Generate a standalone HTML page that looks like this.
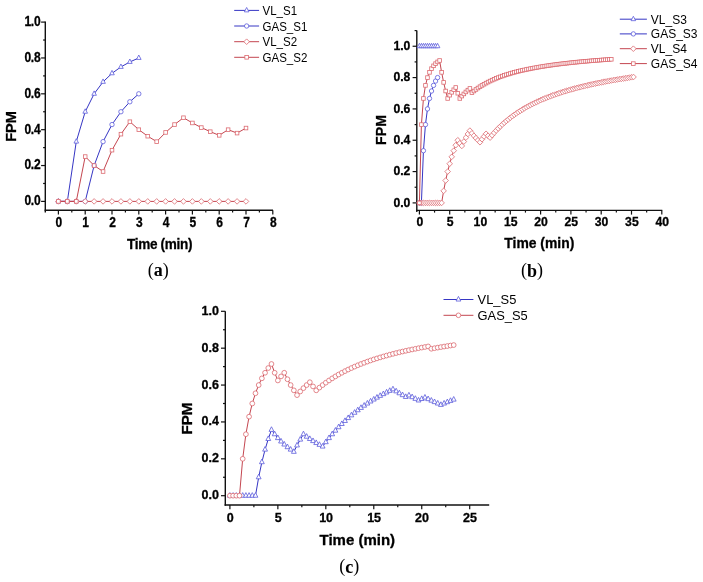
<!DOCTYPE html>
<html><head><meta charset="utf-8"><title>FPM figure</title>
<style>
html,body{margin:0;padding:0;background:#fff;}
body{width:703px;height:582px;overflow:hidden;font-family:"Liberation Sans", sans-serif;}
svg{display:block;will-change:transform;}
</style></head>
<body>
<svg width="703" height="582" viewBox="0 0 703 582">
<rect width="703" height="582" fill="#fff"/>
<line x1="45.3" y1="21.6" x2="45.3" y2="212.6" stroke="#111" stroke-width="1.4"/>
<line x1="44.6" y1="210.2" x2="273" y2="210.2" stroke="#111" stroke-width="1.4"/>
<line x1="41.1" y1="201.4" x2="45.3" y2="201.4" stroke="#111" stroke-width="1.2"/>
<line x1="41.1" y1="165.54" x2="45.3" y2="165.54" stroke="#111" stroke-width="1.2"/>
<line x1="41.1" y1="129.68" x2="45.3" y2="129.68" stroke="#111" stroke-width="1.2"/>
<line x1="41.1" y1="93.82" x2="45.3" y2="93.82" stroke="#111" stroke-width="1.2"/>
<line x1="41.1" y1="57.96" x2="45.3" y2="57.96" stroke="#111" stroke-width="1.2"/>
<line x1="41.1" y1="22.1" x2="45.3" y2="22.1" stroke="#111" stroke-width="1.2"/>
<line x1="43.1" y1="183.47" x2="45.3" y2="183.47" stroke="#111" stroke-width="1.2"/>
<line x1="43.1" y1="147.61" x2="45.3" y2="147.61" stroke="#111" stroke-width="1.2"/>
<line x1="43.1" y1="111.75" x2="45.3" y2="111.75" stroke="#111" stroke-width="1.2"/>
<line x1="43.1" y1="75.89" x2="45.3" y2="75.89" stroke="#111" stroke-width="1.2"/>
<line x1="43.1" y1="40.03" x2="45.3" y2="40.03" stroke="#111" stroke-width="1.2"/>
<line x1="58.4" y1="210.2" x2="58.4" y2="214.4" stroke="#111" stroke-width="1.2"/>
<line x1="85.2" y1="210.2" x2="85.2" y2="214.4" stroke="#111" stroke-width="1.2"/>
<line x1="112" y1="210.2" x2="112" y2="214.4" stroke="#111" stroke-width="1.2"/>
<line x1="138.8" y1="210.2" x2="138.8" y2="214.4" stroke="#111" stroke-width="1.2"/>
<line x1="165.6" y1="210.2" x2="165.6" y2="214.4" stroke="#111" stroke-width="1.2"/>
<line x1="192.4" y1="210.2" x2="192.4" y2="214.4" stroke="#111" stroke-width="1.2"/>
<line x1="219.2" y1="210.2" x2="219.2" y2="214.4" stroke="#111" stroke-width="1.2"/>
<line x1="246" y1="210.2" x2="246" y2="214.4" stroke="#111" stroke-width="1.2"/>
<line x1="272.8" y1="210.2" x2="272.8" y2="214.4" stroke="#111" stroke-width="1.2"/>
<line x1="71.8" y1="210.2" x2="71.8" y2="212.4" stroke="#111" stroke-width="1.2"/>
<line x1="98.6" y1="210.2" x2="98.6" y2="212.4" stroke="#111" stroke-width="1.2"/>
<line x1="125.4" y1="210.2" x2="125.4" y2="212.4" stroke="#111" stroke-width="1.2"/>
<line x1="152.2" y1="210.2" x2="152.2" y2="212.4" stroke="#111" stroke-width="1.2"/>
<line x1="179" y1="210.2" x2="179" y2="212.4" stroke="#111" stroke-width="1.2"/>
<line x1="205.8" y1="210.2" x2="205.8" y2="212.4" stroke="#111" stroke-width="1.2"/>
<line x1="232.6" y1="210.2" x2="232.6" y2="212.4" stroke="#111" stroke-width="1.2"/>
<line x1="259.4" y1="210.2" x2="259.4" y2="212.4" stroke="#111" stroke-width="1.2"/>
<text transform="translate(40.3 205.3) scale(0.87 1)" x="0" y="0" font-family='"Liberation Sans", sans-serif' font-size="13.8" font-weight="bold" text-anchor="end" letter-spacing="-0.3" stroke="#000" stroke-width="0.3" >0.0</text>
<text transform="translate(40.3 169.44) scale(0.87 1)" x="0" y="0" font-family='"Liberation Sans", sans-serif' font-size="13.8" font-weight="bold" text-anchor="end" letter-spacing="-0.3" stroke="#000" stroke-width="0.3" >0.2</text>
<text transform="translate(40.3 133.58) scale(0.87 1)" x="0" y="0" font-family='"Liberation Sans", sans-serif' font-size="13.8" font-weight="bold" text-anchor="end" letter-spacing="-0.3" stroke="#000" stroke-width="0.3" >0.4</text>
<text transform="translate(40.3 97.72) scale(0.87 1)" x="0" y="0" font-family='"Liberation Sans", sans-serif' font-size="13.8" font-weight="bold" text-anchor="end" letter-spacing="-0.3" stroke="#000" stroke-width="0.3" >0.6</text>
<text transform="translate(40.3 61.86) scale(0.87 1)" x="0" y="0" font-family='"Liberation Sans", sans-serif' font-size="13.8" font-weight="bold" text-anchor="end" letter-spacing="-0.3" stroke="#000" stroke-width="0.3" >0.8</text>
<text transform="translate(40.3 26) scale(0.87 1)" x="0" y="0" font-family='"Liberation Sans", sans-serif' font-size="13.8" font-weight="bold" text-anchor="end" letter-spacing="-0.3" stroke="#000" stroke-width="0.3" >1.0</text>
<text transform="translate(58.9 226.6) scale(0.87 1)" x="0" y="0" font-family='"Liberation Sans", sans-serif' font-size="13.8" font-weight="bold" text-anchor="middle" stroke="#000" stroke-width="0.3" >0</text>
<text transform="translate(85.7 226.6) scale(0.87 1)" x="0" y="0" font-family='"Liberation Sans", sans-serif' font-size="13.8" font-weight="bold" text-anchor="middle" stroke="#000" stroke-width="0.3" >1</text>
<text transform="translate(112.5 226.6) scale(0.87 1)" x="0" y="0" font-family='"Liberation Sans", sans-serif' font-size="13.8" font-weight="bold" text-anchor="middle" stroke="#000" stroke-width="0.3" >2</text>
<text transform="translate(139.3 226.6) scale(0.87 1)" x="0" y="0" font-family='"Liberation Sans", sans-serif' font-size="13.8" font-weight="bold" text-anchor="middle" stroke="#000" stroke-width="0.3" >3</text>
<text transform="translate(166.1 226.6) scale(0.87 1)" x="0" y="0" font-family='"Liberation Sans", sans-serif' font-size="13.8" font-weight="bold" text-anchor="middle" stroke="#000" stroke-width="0.3" >4</text>
<text transform="translate(192.9 226.6) scale(0.87 1)" x="0" y="0" font-family='"Liberation Sans", sans-serif' font-size="13.8" font-weight="bold" text-anchor="middle" stroke="#000" stroke-width="0.3" >5</text>
<text transform="translate(219.7 226.6) scale(0.87 1)" x="0" y="0" font-family='"Liberation Sans", sans-serif' font-size="13.8" font-weight="bold" text-anchor="middle" stroke="#000" stroke-width="0.3" >6</text>
<text transform="translate(246.5 226.6) scale(0.87 1)" x="0" y="0" font-family='"Liberation Sans", sans-serif' font-size="13.8" font-weight="bold" text-anchor="middle" stroke="#000" stroke-width="0.3" >7</text>
<text transform="translate(273.3 226.6) scale(0.87 1)" x="0" y="0" font-family='"Liberation Sans", sans-serif' font-size="13.8" font-weight="bold" text-anchor="middle" stroke="#000" stroke-width="0.3" >8</text>
<polyline fill="none" stroke="#3636c4" stroke-width="1.0" points="58.4,201.4 67.33,201.4 76.27,141.63 85.2,111.75 94.13,93.82 103.07,81.87 112,73.33 120.93,66.92 129.87,61.94 138.8,57.96"/>
<polygon points="58.4,198.47 56.1,202.87 60.7,202.87" fill="#fff" stroke="#5c5cdc" stroke-width="0.8"/>
<polygon points="67.33,198.47 65.03,202.87 69.63,202.87" fill="#fff" stroke="#5c5cdc" stroke-width="0.8"/>
<polygon points="76.27,138.7 73.97,143.1 78.57,143.1" fill="#fff" stroke="#5c5cdc" stroke-width="0.8"/>
<polygon points="85.2,108.82 82.9,113.22 87.5,113.22" fill="#fff" stroke="#5c5cdc" stroke-width="0.8"/>
<polygon points="94.13,90.89 91.83,95.29 96.43,95.29" fill="#fff" stroke="#5c5cdc" stroke-width="0.8"/>
<polygon points="103.07,78.93 100.77,83.33 105.37,83.33" fill="#fff" stroke="#5c5cdc" stroke-width="0.8"/>
<polygon points="112,70.39 109.7,74.79 114.3,74.79" fill="#fff" stroke="#5c5cdc" stroke-width="0.8"/>
<polygon points="120.93,63.99 118.63,68.39 123.23,68.39" fill="#fff" stroke="#5c5cdc" stroke-width="0.8"/>
<polygon points="129.87,59.01 127.57,63.41 132.17,63.41" fill="#fff" stroke="#5c5cdc" stroke-width="0.8"/>
<polygon points="138.8,55.03 136.5,59.43 141.1,59.43" fill="#fff" stroke="#5c5cdc" stroke-width="0.8"/>
<polyline fill="none" stroke="#3636c4" stroke-width="1.0" points="58.4,201.4 67.33,201.4 76.27,201.4 85.2,201.4 94.13,165.54 103.07,141.63 112,124.56 120.93,111.75 129.87,101.79 138.8,93.82"/>
<circle cx="58.4" cy="201.4" r="2.2" fill="#fff" stroke="#5c5cdc" stroke-width="0.8"/>
<circle cx="67.33" cy="201.4" r="2.2" fill="#fff" stroke="#5c5cdc" stroke-width="0.8"/>
<circle cx="76.27" cy="201.4" r="2.2" fill="#fff" stroke="#5c5cdc" stroke-width="0.8"/>
<circle cx="85.2" cy="201.4" r="2.2" fill="#fff" stroke="#5c5cdc" stroke-width="0.8"/>
<circle cx="94.13" cy="165.54" r="2.2" fill="#fff" stroke="#5c5cdc" stroke-width="0.8"/>
<circle cx="103.07" cy="141.63" r="2.2" fill="#fff" stroke="#5c5cdc" stroke-width="0.8"/>
<circle cx="112" cy="124.56" r="2.2" fill="#fff" stroke="#5c5cdc" stroke-width="0.8"/>
<circle cx="120.93" cy="111.75" r="2.2" fill="#fff" stroke="#5c5cdc" stroke-width="0.8"/>
<circle cx="129.87" cy="101.79" r="2.2" fill="#fff" stroke="#5c5cdc" stroke-width="0.8"/>
<circle cx="138.8" cy="93.82" r="2.2" fill="#fff" stroke="#5c5cdc" stroke-width="0.8"/>
<polyline fill="none" stroke="#c44650" stroke-width="1.0" points="58.4,201.4 67.33,201.4 76.27,201.4 85.2,201.4 94.13,201.4 103.07,201.4 112,201.4 120.93,201.4 129.87,201.4 138.8,201.4 147.73,201.4 156.67,201.4 165.6,201.4 174.53,201.4 183.47,201.4 192.4,201.4 201.33,201.4 210.27,201.4 219.2,201.4 228.13,201.4 237.07,201.4 246,201.4"/>
<polygon points="58.4,198.6 61.2,201.4 58.4,204.2 55.6,201.4" fill="#fff" stroke="#dc6a70" stroke-width="0.8"/>
<polygon points="67.33,198.6 70.13,201.4 67.33,204.2 64.53,201.4" fill="#fff" stroke="#dc6a70" stroke-width="0.8"/>
<polygon points="76.27,198.6 79.07,201.4 76.27,204.2 73.47,201.4" fill="#fff" stroke="#dc6a70" stroke-width="0.8"/>
<polygon points="85.2,198.6 88,201.4 85.2,204.2 82.4,201.4" fill="#fff" stroke="#dc6a70" stroke-width="0.8"/>
<polygon points="94.13,198.6 96.93,201.4 94.13,204.2 91.33,201.4" fill="#fff" stroke="#dc6a70" stroke-width="0.8"/>
<polygon points="103.07,198.6 105.87,201.4 103.07,204.2 100.27,201.4" fill="#fff" stroke="#dc6a70" stroke-width="0.8"/>
<polygon points="112,198.6 114.8,201.4 112,204.2 109.2,201.4" fill="#fff" stroke="#dc6a70" stroke-width="0.8"/>
<polygon points="120.93,198.6 123.73,201.4 120.93,204.2 118.13,201.4" fill="#fff" stroke="#dc6a70" stroke-width="0.8"/>
<polygon points="129.87,198.6 132.67,201.4 129.87,204.2 127.07,201.4" fill="#fff" stroke="#dc6a70" stroke-width="0.8"/>
<polygon points="138.8,198.6 141.6,201.4 138.8,204.2 136,201.4" fill="#fff" stroke="#dc6a70" stroke-width="0.8"/>
<polygon points="147.73,198.6 150.53,201.4 147.73,204.2 144.93,201.4" fill="#fff" stroke="#dc6a70" stroke-width="0.8"/>
<polygon points="156.67,198.6 159.47,201.4 156.67,204.2 153.87,201.4" fill="#fff" stroke="#dc6a70" stroke-width="0.8"/>
<polygon points="165.6,198.6 168.4,201.4 165.6,204.2 162.8,201.4" fill="#fff" stroke="#dc6a70" stroke-width="0.8"/>
<polygon points="174.53,198.6 177.33,201.4 174.53,204.2 171.73,201.4" fill="#fff" stroke="#dc6a70" stroke-width="0.8"/>
<polygon points="183.47,198.6 186.27,201.4 183.47,204.2 180.67,201.4" fill="#fff" stroke="#dc6a70" stroke-width="0.8"/>
<polygon points="192.4,198.6 195.2,201.4 192.4,204.2 189.6,201.4" fill="#fff" stroke="#dc6a70" stroke-width="0.8"/>
<polygon points="201.33,198.6 204.13,201.4 201.33,204.2 198.53,201.4" fill="#fff" stroke="#dc6a70" stroke-width="0.8"/>
<polygon points="210.27,198.6 213.07,201.4 210.27,204.2 207.47,201.4" fill="#fff" stroke="#dc6a70" stroke-width="0.8"/>
<polygon points="219.2,198.6 222,201.4 219.2,204.2 216.4,201.4" fill="#fff" stroke="#dc6a70" stroke-width="0.8"/>
<polygon points="228.13,198.6 230.93,201.4 228.13,204.2 225.33,201.4" fill="#fff" stroke="#dc6a70" stroke-width="0.8"/>
<polygon points="237.07,198.6 239.87,201.4 237.07,204.2 234.27,201.4" fill="#fff" stroke="#dc6a70" stroke-width="0.8"/>
<polygon points="246,198.6 248.8,201.4 246,204.2 243.2,201.4" fill="#fff" stroke="#dc6a70" stroke-width="0.8"/>
<polyline fill="none" stroke="#c44650" stroke-width="1.0" points="58.4,201.4 67.33,201.4 76.27,201.4 85.2,156.57 94.13,165.54 103.07,171.52 112,150.17 120.93,134.16 129.87,121.71 138.8,129.68 147.73,136.2 156.67,141.63 165.6,132.44 174.53,124.56 183.47,117.73 192.4,122.96 201.33,127.57 210.27,131.67 219.2,135.34 228.13,129.68 237.07,133.1 246,128.05"/>
<rect x="56.6" y="199.6" width="3.6" height="3.6" fill="#fff" stroke="#dc6a70" stroke-width="0.8"/>
<rect x="65.53" y="199.6" width="3.6" height="3.6" fill="#fff" stroke="#dc6a70" stroke-width="0.8"/>
<rect x="74.47" y="199.6" width="3.6" height="3.6" fill="#fff" stroke="#dc6a70" stroke-width="0.8"/>
<rect x="83.4" y="154.77" width="3.6" height="3.6" fill="#fff" stroke="#dc6a70" stroke-width="0.8"/>
<rect x="92.33" y="163.74" width="3.6" height="3.6" fill="#fff" stroke="#dc6a70" stroke-width="0.8"/>
<rect x="101.27" y="169.72" width="3.6" height="3.6" fill="#fff" stroke="#dc6a70" stroke-width="0.8"/>
<rect x="110.2" y="148.37" width="3.6" height="3.6" fill="#fff" stroke="#dc6a70" stroke-width="0.8"/>
<rect x="119.13" y="132.36" width="3.6" height="3.6" fill="#fff" stroke="#dc6a70" stroke-width="0.8"/>
<rect x="128.07" y="119.91" width="3.6" height="3.6" fill="#fff" stroke="#dc6a70" stroke-width="0.8"/>
<rect x="137" y="127.88" width="3.6" height="3.6" fill="#fff" stroke="#dc6a70" stroke-width="0.8"/>
<rect x="145.93" y="134.4" width="3.6" height="3.6" fill="#fff" stroke="#dc6a70" stroke-width="0.8"/>
<rect x="154.87" y="139.83" width="3.6" height="3.6" fill="#fff" stroke="#dc6a70" stroke-width="0.8"/>
<rect x="163.8" y="130.64" width="3.6" height="3.6" fill="#fff" stroke="#dc6a70" stroke-width="0.8"/>
<rect x="172.73" y="122.76" width="3.6" height="3.6" fill="#fff" stroke="#dc6a70" stroke-width="0.8"/>
<rect x="181.67" y="115.93" width="3.6" height="3.6" fill="#fff" stroke="#dc6a70" stroke-width="0.8"/>
<rect x="190.6" y="121.16" width="3.6" height="3.6" fill="#fff" stroke="#dc6a70" stroke-width="0.8"/>
<rect x="199.53" y="125.77" width="3.6" height="3.6" fill="#fff" stroke="#dc6a70" stroke-width="0.8"/>
<rect x="208.47" y="129.87" width="3.6" height="3.6" fill="#fff" stroke="#dc6a70" stroke-width="0.8"/>
<rect x="217.4" y="133.54" width="3.6" height="3.6" fill="#fff" stroke="#dc6a70" stroke-width="0.8"/>
<rect x="226.33" y="127.88" width="3.6" height="3.6" fill="#fff" stroke="#dc6a70" stroke-width="0.8"/>
<rect x="235.27" y="131.3" width="3.6" height="3.6" fill="#fff" stroke="#dc6a70" stroke-width="0.8"/>
<rect x="244.2" y="126.25" width="3.6" height="3.6" fill="#fff" stroke="#dc6a70" stroke-width="0.8"/>
<line x1="234.2" y1="10.4" x2="259.1" y2="10.4" stroke="#3636c4" stroke-width="1"/>
<polygon points="246.65,7.47 244.35,11.87 248.95,11.87" fill="#fff" stroke="#5c5cdc" stroke-width="0.8"/>
<text transform="translate(262.5 14.99) scale(0.93 1)" x="0" y="0" font-family='"Liberation Sans", sans-serif' font-size="12.4" font-weight="normal" text-anchor="start" >VL_S1</text>
<line x1="234.2" y1="26" x2="259.1" y2="26" stroke="#3636c4" stroke-width="1"/>
<circle cx="246.65" cy="26" r="2.2" fill="#fff" stroke="#5c5cdc" stroke-width="0.8"/>
<text transform="translate(262.5 30.59) scale(0.93 1)" x="0" y="0" font-family='"Liberation Sans", sans-serif' font-size="12.4" font-weight="normal" text-anchor="start" >GAS_S1</text>
<line x1="234.2" y1="41.7" x2="259.1" y2="41.7" stroke="#c44650" stroke-width="1"/>
<polygon points="246.65,38.9 249.45,41.7 246.65,44.5 243.85,41.7" fill="#fff" stroke="#dc6a70" stroke-width="0.8"/>
<text transform="translate(262.5 46.29) scale(0.93 1)" x="0" y="0" font-family='"Liberation Sans", sans-serif' font-size="12.4" font-weight="normal" text-anchor="start" >VL_S2</text>
<line x1="234.2" y1="57.3" x2="259.1" y2="57.3" stroke="#c44650" stroke-width="1"/>
<rect x="244.85" y="55.5" width="3.6" height="3.6" fill="#fff" stroke="#dc6a70" stroke-width="0.8"/>
<text transform="translate(262.5 61.89) scale(0.93 1)" x="0" y="0" font-family='"Liberation Sans", sans-serif' font-size="12.4" font-weight="normal" text-anchor="start" >GAS_S2</text>
<text x="16.4" y="126.4" font-family='"Liberation Sans", sans-serif' font-size="14.6" font-weight="bold" text-anchor="middle" stroke="#000" stroke-width="0.3" transform="rotate(-90 16.4 126.4)">FPM</text>
<text transform="translate(159.6 248.7) scale(0.93 1)" x="0" y="0" font-family='"Liberation Sans", sans-serif' font-size="14.6" font-weight="bold" text-anchor="middle" letter-spacing="-0.35" stroke="#000" stroke-width="0.3" >Time (min)</text>
<text x="158.2" y="276" font-family='"Liberation Serif", serif' font-size="18" font-weight="bold" text-anchor="middle" ><tspan font-weight="normal">(</tspan><tspan dy="-0.3">a</tspan><tspan dy="0.3" font-weight="normal">)</tspan></text>
<line x1="416.8" y1="30.5" x2="416.8" y2="212" stroke="#111" stroke-width="1.4"/>
<line x1="416.1" y1="210.4" x2="662.3" y2="210.4" stroke="#111" stroke-width="1.4"/>
<line x1="412.6" y1="202.9" x2="416.8" y2="202.9" stroke="#111" stroke-width="1.2"/>
<line x1="412.6" y1="171.57" x2="416.8" y2="171.57" stroke="#111" stroke-width="1.2"/>
<line x1="412.6" y1="140.24" x2="416.8" y2="140.24" stroke="#111" stroke-width="1.2"/>
<line x1="412.6" y1="108.91" x2="416.8" y2="108.91" stroke="#111" stroke-width="1.2"/>
<line x1="412.6" y1="77.58" x2="416.8" y2="77.58" stroke="#111" stroke-width="1.2"/>
<line x1="412.6" y1="46.25" x2="416.8" y2="46.25" stroke="#111" stroke-width="1.2"/>
<line x1="414.6" y1="187.24" x2="416.8" y2="187.24" stroke="#111" stroke-width="1.2"/>
<line x1="414.6" y1="155.91" x2="416.8" y2="155.91" stroke="#111" stroke-width="1.2"/>
<line x1="414.6" y1="124.58" x2="416.8" y2="124.58" stroke="#111" stroke-width="1.2"/>
<line x1="414.6" y1="93.25" x2="416.8" y2="93.25" stroke="#111" stroke-width="1.2"/>
<line x1="414.6" y1="61.91" x2="416.8" y2="61.91" stroke="#111" stroke-width="1.2"/>
<line x1="414.6" y1="30.58" x2="416.8" y2="30.58" stroke="#111" stroke-width="1.2"/>
<line x1="419.4" y1="210.4" x2="419.4" y2="214.6" stroke="#111" stroke-width="1.2"/>
<line x1="449.7" y1="210.4" x2="449.7" y2="214.6" stroke="#111" stroke-width="1.2"/>
<line x1="480" y1="210.4" x2="480" y2="214.6" stroke="#111" stroke-width="1.2"/>
<line x1="510.3" y1="210.4" x2="510.3" y2="214.6" stroke="#111" stroke-width="1.2"/>
<line x1="540.6" y1="210.4" x2="540.6" y2="214.6" stroke="#111" stroke-width="1.2"/>
<line x1="570.9" y1="210.4" x2="570.9" y2="214.6" stroke="#111" stroke-width="1.2"/>
<line x1="601.2" y1="210.4" x2="601.2" y2="214.6" stroke="#111" stroke-width="1.2"/>
<line x1="631.5" y1="210.4" x2="631.5" y2="214.6" stroke="#111" stroke-width="1.2"/>
<line x1="661.8" y1="210.4" x2="661.8" y2="214.6" stroke="#111" stroke-width="1.2"/>
<line x1="434.55" y1="210.4" x2="434.55" y2="212.6" stroke="#111" stroke-width="1.2"/>
<line x1="464.85" y1="210.4" x2="464.85" y2="212.6" stroke="#111" stroke-width="1.2"/>
<line x1="495.15" y1="210.4" x2="495.15" y2="212.6" stroke="#111" stroke-width="1.2"/>
<line x1="525.45" y1="210.4" x2="525.45" y2="212.6" stroke="#111" stroke-width="1.2"/>
<line x1="555.75" y1="210.4" x2="555.75" y2="212.6" stroke="#111" stroke-width="1.2"/>
<line x1="586.05" y1="210.4" x2="586.05" y2="212.6" stroke="#111" stroke-width="1.2"/>
<line x1="616.35" y1="210.4" x2="616.35" y2="212.6" stroke="#111" stroke-width="1.2"/>
<line x1="646.65" y1="210.4" x2="646.65" y2="212.6" stroke="#111" stroke-width="1.2"/>
<text x="410.4" y="206.8" font-family='"Liberation Sans", sans-serif' font-size="12.2" font-weight="bold" text-anchor="end" stroke="#000" stroke-width="0.3" >0.0</text>
<text x="410.4" y="175.47" font-family='"Liberation Sans", sans-serif' font-size="12.2" font-weight="bold" text-anchor="end" stroke="#000" stroke-width="0.3" >0.2</text>
<text x="410.4" y="144.14" font-family='"Liberation Sans", sans-serif' font-size="12.2" font-weight="bold" text-anchor="end" stroke="#000" stroke-width="0.3" >0.4</text>
<text x="410.4" y="112.81" font-family='"Liberation Sans", sans-serif' font-size="12.2" font-weight="bold" text-anchor="end" stroke="#000" stroke-width="0.3" >0.6</text>
<text x="410.4" y="81.48" font-family='"Liberation Sans", sans-serif' font-size="12.2" font-weight="bold" text-anchor="end" stroke="#000" stroke-width="0.3" >0.8</text>
<text x="410.4" y="50.15" font-family='"Liberation Sans", sans-serif' font-size="12.2" font-weight="bold" text-anchor="end" stroke="#000" stroke-width="0.3" >1.0</text>
<text x="419.8" y="226.2" font-family='"Liberation Sans", sans-serif' font-size="12.2" font-weight="bold" text-anchor="middle" stroke="#000" stroke-width="0.3" >0</text>
<text x="450.1" y="226.2" font-family='"Liberation Sans", sans-serif' font-size="12.2" font-weight="bold" text-anchor="middle" stroke="#000" stroke-width="0.3" >5</text>
<text x="480.4" y="226.2" font-family='"Liberation Sans", sans-serif' font-size="12.2" font-weight="bold" text-anchor="middle" stroke="#000" stroke-width="0.3" >10</text>
<text x="510.7" y="226.2" font-family='"Liberation Sans", sans-serif' font-size="12.2" font-weight="bold" text-anchor="middle" stroke="#000" stroke-width="0.3" >15</text>
<text x="541" y="226.2" font-family='"Liberation Sans", sans-serif' font-size="12.2" font-weight="bold" text-anchor="middle" stroke="#000" stroke-width="0.3" >20</text>
<text x="571.3" y="226.2" font-family='"Liberation Sans", sans-serif' font-size="12.2" font-weight="bold" text-anchor="middle" stroke="#000" stroke-width="0.3" >25</text>
<text x="601.6" y="226.2" font-family='"Liberation Sans", sans-serif' font-size="12.2" font-weight="bold" text-anchor="middle" stroke="#000" stroke-width="0.3" >30</text>
<text x="631.9" y="226.2" font-family='"Liberation Sans", sans-serif' font-size="12.2" font-weight="bold" text-anchor="middle" stroke="#000" stroke-width="0.3" >35</text>
<text x="662.2" y="226.2" font-family='"Liberation Sans", sans-serif' font-size="12.2" font-weight="bold" text-anchor="middle" stroke="#000" stroke-width="0.3" >40</text>
<polyline fill="none" stroke="#3636c4" stroke-width="1.0" points="419.4,46.25 421.42,46.25 423.44,46.25 425.46,46.25 427.48,46.25 429.5,46.25 431.52,46.25 433.54,46.25 435.56,46.25 437.58,46.25"/>
<polygon points="419.4,43.32 417.1,47.72 421.7,47.72" fill="#fff" stroke="#5c5cdc" stroke-width="0.8"/>
<polygon points="421.42,43.32 419.12,47.72 423.72,47.72" fill="#fff" stroke="#5c5cdc" stroke-width="0.8"/>
<polygon points="423.44,43.32 421.14,47.72 425.74,47.72" fill="#fff" stroke="#5c5cdc" stroke-width="0.8"/>
<polygon points="425.46,43.32 423.16,47.72 427.76,47.72" fill="#fff" stroke="#5c5cdc" stroke-width="0.8"/>
<polygon points="427.48,43.32 425.18,47.72 429.78,47.72" fill="#fff" stroke="#5c5cdc" stroke-width="0.8"/>
<polygon points="429.5,43.32 427.2,47.72 431.8,47.72" fill="#fff" stroke="#5c5cdc" stroke-width="0.8"/>
<polygon points="431.52,43.32 429.22,47.72 433.82,47.72" fill="#fff" stroke="#5c5cdc" stroke-width="0.8"/>
<polygon points="433.54,43.32 431.24,47.72 435.84,47.72" fill="#fff" stroke="#5c5cdc" stroke-width="0.8"/>
<polygon points="435.56,43.32 433.26,47.72 437.86,47.72" fill="#fff" stroke="#5c5cdc" stroke-width="0.8"/>
<polygon points="437.58,43.32 435.28,47.72 439.88,47.72" fill="#fff" stroke="#5c5cdc" stroke-width="0.8"/>
<polyline fill="none" stroke="#3636c4" stroke-width="1.0" points="419.4,202.9 421.42,202.9 423.44,150.68 425.46,124.58 427.48,108.91 429.5,98.47 431.52,91.01 433.54,85.41 435.56,81.06 437.58,77.58"/>
<circle cx="419.4" cy="202.9" r="2.2" fill="#fff" stroke="#5c5cdc" stroke-width="0.8"/>
<circle cx="421.42" cy="202.9" r="2.2" fill="#fff" stroke="#5c5cdc" stroke-width="0.8"/>
<circle cx="423.44" cy="150.68" r="2.2" fill="#fff" stroke="#5c5cdc" stroke-width="0.8"/>
<circle cx="425.46" cy="124.58" r="2.2" fill="#fff" stroke="#5c5cdc" stroke-width="0.8"/>
<circle cx="427.48" cy="108.91" r="2.2" fill="#fff" stroke="#5c5cdc" stroke-width="0.8"/>
<circle cx="429.5" cy="98.47" r="2.2" fill="#fff" stroke="#5c5cdc" stroke-width="0.8"/>
<circle cx="431.52" cy="91.01" r="2.2" fill="#fff" stroke="#5c5cdc" stroke-width="0.8"/>
<circle cx="433.54" cy="85.41" r="2.2" fill="#fff" stroke="#5c5cdc" stroke-width="0.8"/>
<circle cx="435.56" cy="81.06" r="2.2" fill="#fff" stroke="#5c5cdc" stroke-width="0.8"/>
<circle cx="437.58" cy="77.58" r="2.2" fill="#fff" stroke="#5c5cdc" stroke-width="0.8"/>
<polyline fill="none" stroke="#c44650" stroke-width="1.0" points="419.4,202.9 421.42,202.9 423.44,202.9 425.46,202.9 427.48,202.9 429.5,202.9 431.52,202.9 433.54,202.9 435.56,202.9 437.58,202.9 439.6,202.9 441.62,202.9 443.64,190.85 445.66,180.52 447.68,171.57 449.7,163.74 451.72,156.83 453.74,150.68 455.76,145.19 457.78,140.24 459.8,143.22 461.82,145.94 463.84,141.6 465.86,137.63 467.88,133.97 469.9,130.6 471.92,133.28 473.94,135.76 475.96,138.08 477.98,140.24 480,142.26 482.02,139.26 484.04,136.44 486.06,133.79 488.08,135.76 490.1,137.63 492.12,135.16 494.14,132.82 496.16,130.6 498.18,128.49 500.2,126.49 502.22,124.58 504.24,122.75 506.26,121.01 508.28,119.35 510.3,117.76 512.32,116.24 514.34,114.78 516.36,113.39 518.38,112.04 520.4,110.75 522.42,109.51 524.44,108.32 526.46,107.17 528.48,106.06 530.5,104.99 532.52,103.96 534.54,102.97 536.56,102.01 538.58,101.08 540.6,100.18 542.62,99.31 544.64,98.47 546.66,97.65 548.68,96.86 550.7,96.09 552.72,95.35 554.74,94.63 556.76,93.93 558.78,93.25 560.8,92.58 562.82,91.94 564.84,91.31 566.86,90.7 568.88,90.11 570.9,89.53 572.92,88.97 574.94,88.43 576.96,87.89 578.98,87.37 581,86.86 583.02,86.37 585.04,85.88 587.06,85.41 589.08,84.95 591.1,84.5 593.12,84.06 595.14,83.63 597.16,83.21 599.18,82.8 601.2,82.4 603.22,82.01 605.24,81.62 607.26,81.25 609.28,80.88 611.3,80.52 613.32,80.16 615.34,79.82 617.36,79.48 619.38,79.15 621.4,78.82 623.42,78.5 625.44,78.19 627.46,77.88 629.48,77.58 631.5,77.28 633.52,76.99"/>
<polygon points="419.4,200.1 422.2,202.9 419.4,205.7 416.6,202.9" fill="#fff" stroke="#dc6a70" stroke-width="0.8"/>
<polygon points="421.42,200.1 424.22,202.9 421.42,205.7 418.62,202.9" fill="#fff" stroke="#dc6a70" stroke-width="0.8"/>
<polygon points="423.44,200.1 426.24,202.9 423.44,205.7 420.64,202.9" fill="#fff" stroke="#dc6a70" stroke-width="0.8"/>
<polygon points="425.46,200.1 428.26,202.9 425.46,205.7 422.66,202.9" fill="#fff" stroke="#dc6a70" stroke-width="0.8"/>
<polygon points="427.48,200.1 430.28,202.9 427.48,205.7 424.68,202.9" fill="#fff" stroke="#dc6a70" stroke-width="0.8"/>
<polygon points="429.5,200.1 432.3,202.9 429.5,205.7 426.7,202.9" fill="#fff" stroke="#dc6a70" stroke-width="0.8"/>
<polygon points="431.52,200.1 434.32,202.9 431.52,205.7 428.72,202.9" fill="#fff" stroke="#dc6a70" stroke-width="0.8"/>
<polygon points="433.54,200.1 436.34,202.9 433.54,205.7 430.74,202.9" fill="#fff" stroke="#dc6a70" stroke-width="0.8"/>
<polygon points="435.56,200.1 438.36,202.9 435.56,205.7 432.76,202.9" fill="#fff" stroke="#dc6a70" stroke-width="0.8"/>
<polygon points="437.58,200.1 440.38,202.9 437.58,205.7 434.78,202.9" fill="#fff" stroke="#dc6a70" stroke-width="0.8"/>
<polygon points="439.6,200.1 442.4,202.9 439.6,205.7 436.8,202.9" fill="#fff" stroke="#dc6a70" stroke-width="0.8"/>
<polygon points="441.62,200.1 444.42,202.9 441.62,205.7 438.82,202.9" fill="#fff" stroke="#dc6a70" stroke-width="0.8"/>
<polygon points="443.64,188.05 446.44,190.85 443.64,193.65 440.84,190.85" fill="#fff" stroke="#dc6a70" stroke-width="0.8"/>
<polygon points="445.66,177.72 448.46,180.52 445.66,183.32 442.86,180.52" fill="#fff" stroke="#dc6a70" stroke-width="0.8"/>
<polygon points="447.68,168.77 450.48,171.57 447.68,174.37 444.88,171.57" fill="#fff" stroke="#dc6a70" stroke-width="0.8"/>
<polygon points="449.7,160.94 452.5,163.74 449.7,166.54 446.9,163.74" fill="#fff" stroke="#dc6a70" stroke-width="0.8"/>
<polygon points="451.72,154.03 454.52,156.83 451.72,159.63 448.92,156.83" fill="#fff" stroke="#dc6a70" stroke-width="0.8"/>
<polygon points="453.74,147.88 456.54,150.68 453.74,153.48 450.94,150.68" fill="#fff" stroke="#dc6a70" stroke-width="0.8"/>
<polygon points="455.76,142.39 458.56,145.19 455.76,147.99 452.96,145.19" fill="#fff" stroke="#dc6a70" stroke-width="0.8"/>
<polygon points="457.78,137.44 460.58,140.24 457.78,143.04 454.98,140.24" fill="#fff" stroke="#dc6a70" stroke-width="0.8"/>
<polygon points="459.8,140.42 462.6,143.22 459.8,146.02 457,143.22" fill="#fff" stroke="#dc6a70" stroke-width="0.8"/>
<polygon points="461.82,143.14 464.62,145.94 461.82,148.74 459.02,145.94" fill="#fff" stroke="#dc6a70" stroke-width="0.8"/>
<polygon points="463.84,138.8 466.64,141.6 463.84,144.4 461.04,141.6" fill="#fff" stroke="#dc6a70" stroke-width="0.8"/>
<polygon points="465.86,134.83 468.66,137.63 465.86,140.43 463.06,137.63" fill="#fff" stroke="#dc6a70" stroke-width="0.8"/>
<polygon points="467.88,131.17 470.68,133.97 467.88,136.77 465.08,133.97" fill="#fff" stroke="#dc6a70" stroke-width="0.8"/>
<polygon points="469.9,127.8 472.7,130.6 469.9,133.4 467.1,130.6" fill="#fff" stroke="#dc6a70" stroke-width="0.8"/>
<polygon points="471.92,130.48 474.72,133.28 471.92,136.08 469.12,133.28" fill="#fff" stroke="#dc6a70" stroke-width="0.8"/>
<polygon points="473.94,132.96 476.74,135.76 473.94,138.56 471.14,135.76" fill="#fff" stroke="#dc6a70" stroke-width="0.8"/>
<polygon points="475.96,135.28 478.76,138.08 475.96,140.88 473.16,138.08" fill="#fff" stroke="#dc6a70" stroke-width="0.8"/>
<polygon points="477.98,137.44 480.78,140.24 477.98,143.04 475.18,140.24" fill="#fff" stroke="#dc6a70" stroke-width="0.8"/>
<polygon points="480,139.46 482.8,142.26 480,145.06 477.2,142.26" fill="#fff" stroke="#dc6a70" stroke-width="0.8"/>
<polygon points="482.02,136.46 484.82,139.26 482.02,142.06 479.22,139.26" fill="#fff" stroke="#dc6a70" stroke-width="0.8"/>
<polygon points="484.04,133.64 486.84,136.44 484.04,139.24 481.24,136.44" fill="#fff" stroke="#dc6a70" stroke-width="0.8"/>
<polygon points="486.06,130.99 488.86,133.79 486.06,136.59 483.26,133.79" fill="#fff" stroke="#dc6a70" stroke-width="0.8"/>
<polygon points="488.08,132.96 490.88,135.76 488.08,138.56 485.28,135.76" fill="#fff" stroke="#dc6a70" stroke-width="0.8"/>
<polygon points="490.1,134.83 492.9,137.63 490.1,140.43 487.3,137.63" fill="#fff" stroke="#dc6a70" stroke-width="0.8"/>
<polygon points="492.12,132.36 494.92,135.16 492.12,137.96 489.32,135.16" fill="#fff" stroke="#dc6a70" stroke-width="0.8"/>
<polygon points="494.14,130.02 496.94,132.82 494.14,135.62 491.34,132.82" fill="#fff" stroke="#dc6a70" stroke-width="0.8"/>
<polygon points="496.16,127.8 498.96,130.6 496.16,133.4 493.36,130.6" fill="#fff" stroke="#dc6a70" stroke-width="0.8"/>
<polygon points="498.18,125.69 500.98,128.49 498.18,131.29 495.38,128.49" fill="#fff" stroke="#dc6a70" stroke-width="0.8"/>
<polygon points="500.2,123.69 503,126.49 500.2,129.29 497.4,126.49" fill="#fff" stroke="#dc6a70" stroke-width="0.8"/>
<polygon points="502.22,121.78 505.02,124.58 502.22,127.38 499.42,124.58" fill="#fff" stroke="#dc6a70" stroke-width="0.8"/>
<polygon points="504.24,119.95 507.04,122.75 504.24,125.55 501.44,122.75" fill="#fff" stroke="#dc6a70" stroke-width="0.8"/>
<polygon points="506.26,118.21 509.06,121.01 506.26,123.81 503.46,121.01" fill="#fff" stroke="#dc6a70" stroke-width="0.8"/>
<polygon points="508.28,116.55 511.08,119.35 508.28,122.15 505.48,119.35" fill="#fff" stroke="#dc6a70" stroke-width="0.8"/>
<polygon points="510.3,114.96 513.1,117.76 510.3,120.56 507.5,117.76" fill="#fff" stroke="#dc6a70" stroke-width="0.8"/>
<polygon points="512.32,113.44 515.12,116.24 512.32,119.04 509.52,116.24" fill="#fff" stroke="#dc6a70" stroke-width="0.8"/>
<polygon points="514.34,111.98 517.14,114.78 514.34,117.58 511.54,114.78" fill="#fff" stroke="#dc6a70" stroke-width="0.8"/>
<polygon points="516.36,110.59 519.16,113.39 516.36,116.19 513.56,113.39" fill="#fff" stroke="#dc6a70" stroke-width="0.8"/>
<polygon points="518.38,109.24 521.18,112.04 518.38,114.84 515.58,112.04" fill="#fff" stroke="#dc6a70" stroke-width="0.8"/>
<polygon points="520.4,107.95 523.2,110.75 520.4,113.55 517.6,110.75" fill="#fff" stroke="#dc6a70" stroke-width="0.8"/>
<polygon points="522.42,106.71 525.22,109.51 522.42,112.31 519.62,109.51" fill="#fff" stroke="#dc6a70" stroke-width="0.8"/>
<polygon points="524.44,105.52 527.24,108.32 524.44,111.12 521.64,108.32" fill="#fff" stroke="#dc6a70" stroke-width="0.8"/>
<polygon points="526.46,104.37 529.26,107.17 526.46,109.97 523.66,107.17" fill="#fff" stroke="#dc6a70" stroke-width="0.8"/>
<polygon points="528.48,103.26 531.28,106.06 528.48,108.86 525.68,106.06" fill="#fff" stroke="#dc6a70" stroke-width="0.8"/>
<polygon points="530.5,102.19 533.3,104.99 530.5,107.79 527.7,104.99" fill="#fff" stroke="#dc6a70" stroke-width="0.8"/>
<polygon points="532.52,101.16 535.32,103.96 532.52,106.76 529.72,103.96" fill="#fff" stroke="#dc6a70" stroke-width="0.8"/>
<polygon points="534.54,100.17 537.34,102.97 534.54,105.77 531.74,102.97" fill="#fff" stroke="#dc6a70" stroke-width="0.8"/>
<polygon points="536.56,99.21 539.36,102.01 536.56,104.81 533.76,102.01" fill="#fff" stroke="#dc6a70" stroke-width="0.8"/>
<polygon points="538.58,98.28 541.38,101.08 538.58,103.88 535.78,101.08" fill="#fff" stroke="#dc6a70" stroke-width="0.8"/>
<polygon points="540.6,97.38 543.4,100.18 540.6,102.98 537.8,100.18" fill="#fff" stroke="#dc6a70" stroke-width="0.8"/>
<polygon points="542.62,96.51 545.42,99.31 542.62,102.11 539.82,99.31" fill="#fff" stroke="#dc6a70" stroke-width="0.8"/>
<polygon points="544.64,95.67 547.44,98.47 544.64,101.27 541.84,98.47" fill="#fff" stroke="#dc6a70" stroke-width="0.8"/>
<polygon points="546.66,94.85 549.46,97.65 546.66,100.45 543.86,97.65" fill="#fff" stroke="#dc6a70" stroke-width="0.8"/>
<polygon points="548.68,94.06 551.48,96.86 548.68,99.66 545.88,96.86" fill="#fff" stroke="#dc6a70" stroke-width="0.8"/>
<polygon points="550.7,93.29 553.5,96.09 550.7,98.89 547.9,96.09" fill="#fff" stroke="#dc6a70" stroke-width="0.8"/>
<polygon points="552.72,92.55 555.52,95.35 552.72,98.15 549.92,95.35" fill="#fff" stroke="#dc6a70" stroke-width="0.8"/>
<polygon points="554.74,91.83 557.54,94.63 554.74,97.43 551.94,94.63" fill="#fff" stroke="#dc6a70" stroke-width="0.8"/>
<polygon points="556.76,91.13 559.56,93.93 556.76,96.73 553.96,93.93" fill="#fff" stroke="#dc6a70" stroke-width="0.8"/>
<polygon points="558.78,90.45 561.58,93.25 558.78,96.05 555.98,93.25" fill="#fff" stroke="#dc6a70" stroke-width="0.8"/>
<polygon points="560.8,89.78 563.6,92.58 560.8,95.38 558,92.58" fill="#fff" stroke="#dc6a70" stroke-width="0.8"/>
<polygon points="562.82,89.14 565.62,91.94 562.82,94.74 560.02,91.94" fill="#fff" stroke="#dc6a70" stroke-width="0.8"/>
<polygon points="564.84,88.51 567.64,91.31 564.84,94.11 562.04,91.31" fill="#fff" stroke="#dc6a70" stroke-width="0.8"/>
<polygon points="566.86,87.9 569.66,90.7 566.86,93.5 564.06,90.7" fill="#fff" stroke="#dc6a70" stroke-width="0.8"/>
<polygon points="568.88,87.31 571.68,90.11 568.88,92.91 566.08,90.11" fill="#fff" stroke="#dc6a70" stroke-width="0.8"/>
<polygon points="570.9,86.73 573.7,89.53 570.9,92.33 568.1,89.53" fill="#fff" stroke="#dc6a70" stroke-width="0.8"/>
<polygon points="572.92,86.17 575.72,88.97 572.92,91.77 570.12,88.97" fill="#fff" stroke="#dc6a70" stroke-width="0.8"/>
<polygon points="574.94,85.63 577.74,88.43 574.94,91.23 572.14,88.43" fill="#fff" stroke="#dc6a70" stroke-width="0.8"/>
<polygon points="576.96,85.09 579.76,87.89 576.96,90.69 574.16,87.89" fill="#fff" stroke="#dc6a70" stroke-width="0.8"/>
<polygon points="578.98,84.57 581.78,87.37 578.98,90.17 576.18,87.37" fill="#fff" stroke="#dc6a70" stroke-width="0.8"/>
<polygon points="581,84.06 583.8,86.86 581,89.66 578.2,86.86" fill="#fff" stroke="#dc6a70" stroke-width="0.8"/>
<polygon points="583.02,83.57 585.82,86.37 583.02,89.17 580.22,86.37" fill="#fff" stroke="#dc6a70" stroke-width="0.8"/>
<polygon points="585.04,83.08 587.84,85.88 585.04,88.68 582.24,85.88" fill="#fff" stroke="#dc6a70" stroke-width="0.8"/>
<polygon points="587.06,82.61 589.86,85.41 587.06,88.21 584.26,85.41" fill="#fff" stroke="#dc6a70" stroke-width="0.8"/>
<polygon points="589.08,82.15 591.88,84.95 589.08,87.75 586.28,84.95" fill="#fff" stroke="#dc6a70" stroke-width="0.8"/>
<polygon points="591.1,81.7 593.9,84.5 591.1,87.3 588.3,84.5" fill="#fff" stroke="#dc6a70" stroke-width="0.8"/>
<polygon points="593.12,81.26 595.92,84.06 593.12,86.86 590.32,84.06" fill="#fff" stroke="#dc6a70" stroke-width="0.8"/>
<polygon points="595.14,80.83 597.94,83.63 595.14,86.43 592.34,83.63" fill="#fff" stroke="#dc6a70" stroke-width="0.8"/>
<polygon points="597.16,80.41 599.96,83.21 597.16,86.01 594.36,83.21" fill="#fff" stroke="#dc6a70" stroke-width="0.8"/>
<polygon points="599.18,80 601.98,82.8 599.18,85.6 596.38,82.8" fill="#fff" stroke="#dc6a70" stroke-width="0.8"/>
<polygon points="601.2,79.6 604,82.4 601.2,85.2 598.4,82.4" fill="#fff" stroke="#dc6a70" stroke-width="0.8"/>
<polygon points="603.22,79.21 606.02,82.01 603.22,84.81 600.42,82.01" fill="#fff" stroke="#dc6a70" stroke-width="0.8"/>
<polygon points="605.24,78.82 608.04,81.62 605.24,84.42 602.44,81.62" fill="#fff" stroke="#dc6a70" stroke-width="0.8"/>
<polygon points="607.26,78.45 610.06,81.25 607.26,84.05 604.46,81.25" fill="#fff" stroke="#dc6a70" stroke-width="0.8"/>
<polygon points="609.28,78.08 612.08,80.88 609.28,83.68 606.48,80.88" fill="#fff" stroke="#dc6a70" stroke-width="0.8"/>
<polygon points="611.3,77.72 614.1,80.52 611.3,83.32 608.5,80.52" fill="#fff" stroke="#dc6a70" stroke-width="0.8"/>
<polygon points="613.32,77.36 616.12,80.16 613.32,82.96 610.52,80.16" fill="#fff" stroke="#dc6a70" stroke-width="0.8"/>
<polygon points="615.34,77.02 618.14,79.82 615.34,82.62 612.54,79.82" fill="#fff" stroke="#dc6a70" stroke-width="0.8"/>
<polygon points="617.36,76.68 620.16,79.48 617.36,82.28 614.56,79.48" fill="#fff" stroke="#dc6a70" stroke-width="0.8"/>
<polygon points="619.38,76.35 622.18,79.15 619.38,81.95 616.58,79.15" fill="#fff" stroke="#dc6a70" stroke-width="0.8"/>
<polygon points="621.4,76.02 624.2,78.82 621.4,81.62 618.6,78.82" fill="#fff" stroke="#dc6a70" stroke-width="0.8"/>
<polygon points="623.42,75.7 626.22,78.5 623.42,81.3 620.62,78.5" fill="#fff" stroke="#dc6a70" stroke-width="0.8"/>
<polygon points="625.44,75.39 628.24,78.19 625.44,80.99 622.64,78.19" fill="#fff" stroke="#dc6a70" stroke-width="0.8"/>
<polygon points="627.46,75.08 630.26,77.88 627.46,80.68 624.66,77.88" fill="#fff" stroke="#dc6a70" stroke-width="0.8"/>
<polygon points="629.48,74.78 632.28,77.58 629.48,80.38 626.68,77.58" fill="#fff" stroke="#dc6a70" stroke-width="0.8"/>
<polygon points="631.5,74.48 634.3,77.28 631.5,80.08 628.7,77.28" fill="#fff" stroke="#dc6a70" stroke-width="0.8"/>
<polygon points="633.52,74.19 636.32,76.99 633.52,79.79 630.72,76.99" fill="#fff" stroke="#dc6a70" stroke-width="0.8"/>
<polyline fill="none" stroke="#c44650" stroke-width="1.0" points="419.4,202.9 421.42,124.58 423.44,98.47 425.46,85.41 427.48,77.58 429.5,72.36 431.52,68.63 433.54,65.83 435.56,63.66 437.58,61.91 439.6,60.49 441.62,72.36 443.64,82.4 445.66,91.01 447.68,98.47 449.7,95.2 451.72,92.32 453.74,89.76 455.76,87.47 457.78,93.25 459.8,98.47 461.82,96.09 463.84,93.93 465.86,91.94 467.88,90.11 469.9,88.43 471.92,92.66 473.94,91.01 475.96,89.46 477.98,88.02 480,86.68 482.02,85.41 484.04,84.23 486.06,83.11 488.08,82.06 490.1,81.06 492.12,80.12 494.14,79.23 496.16,78.38 498.18,77.58 500.2,76.82 502.22,76.09 504.24,75.39 506.26,74.73 508.28,74.1 510.3,73.49 512.32,72.91 514.34,72.36 516.36,71.83 518.38,71.31 520.4,70.82 522.42,70.35 524.44,69.9 526.46,69.46 528.48,69.04 530.5,68.63 532.52,68.24 534.54,67.86 536.56,67.49 538.58,67.14 540.6,66.79 542.62,66.46 544.64,66.14 546.66,65.83 548.68,65.53 550.7,65.24 552.72,64.95 554.74,64.68 556.76,64.41 558.78,64.15 560.8,63.9 562.82,63.66 564.84,63.42 566.86,63.19 568.88,62.96 570.9,62.74 572.92,62.53 574.94,62.32 576.96,62.11 578.98,61.91 581,61.72 583.02,61.53 585.04,61.35 587.06,61.17 589.08,60.99 591.1,60.82 593.12,60.65 595.14,60.49 597.16,60.33 599.18,60.17 601.2,60.02 603.22,59.87 605.24,59.73 607.26,59.58 609.28,59.44 611.3,59.3"/>
<rect x="417.6" y="201.1" width="3.6" height="3.6" fill="#fff" stroke="#dc6a70" stroke-width="0.8"/>
<rect x="419.62" y="122.78" width="3.6" height="3.6" fill="#fff" stroke="#dc6a70" stroke-width="0.8"/>
<rect x="421.64" y="96.67" width="3.6" height="3.6" fill="#fff" stroke="#dc6a70" stroke-width="0.8"/>
<rect x="423.66" y="83.61" width="3.6" height="3.6" fill="#fff" stroke="#dc6a70" stroke-width="0.8"/>
<rect x="425.68" y="75.78" width="3.6" height="3.6" fill="#fff" stroke="#dc6a70" stroke-width="0.8"/>
<rect x="427.7" y="70.56" width="3.6" height="3.6" fill="#fff" stroke="#dc6a70" stroke-width="0.8"/>
<rect x="429.72" y="66.83" width="3.6" height="3.6" fill="#fff" stroke="#dc6a70" stroke-width="0.8"/>
<rect x="431.74" y="64.03" width="3.6" height="3.6" fill="#fff" stroke="#dc6a70" stroke-width="0.8"/>
<rect x="433.76" y="61.86" width="3.6" height="3.6" fill="#fff" stroke="#dc6a70" stroke-width="0.8"/>
<rect x="435.78" y="60.11" width="3.6" height="3.6" fill="#fff" stroke="#dc6a70" stroke-width="0.8"/>
<rect x="437.8" y="58.69" width="3.6" height="3.6" fill="#fff" stroke="#dc6a70" stroke-width="0.8"/>
<rect x="439.82" y="70.56" width="3.6" height="3.6" fill="#fff" stroke="#dc6a70" stroke-width="0.8"/>
<rect x="441.84" y="80.6" width="3.6" height="3.6" fill="#fff" stroke="#dc6a70" stroke-width="0.8"/>
<rect x="443.86" y="89.21" width="3.6" height="3.6" fill="#fff" stroke="#dc6a70" stroke-width="0.8"/>
<rect x="445.88" y="96.67" width="3.6" height="3.6" fill="#fff" stroke="#dc6a70" stroke-width="0.8"/>
<rect x="447.9" y="93.4" width="3.6" height="3.6" fill="#fff" stroke="#dc6a70" stroke-width="0.8"/>
<rect x="449.92" y="90.52" width="3.6" height="3.6" fill="#fff" stroke="#dc6a70" stroke-width="0.8"/>
<rect x="451.94" y="87.96" width="3.6" height="3.6" fill="#fff" stroke="#dc6a70" stroke-width="0.8"/>
<rect x="453.96" y="85.67" width="3.6" height="3.6" fill="#fff" stroke="#dc6a70" stroke-width="0.8"/>
<rect x="455.98" y="91.45" width="3.6" height="3.6" fill="#fff" stroke="#dc6a70" stroke-width="0.8"/>
<rect x="458" y="96.67" width="3.6" height="3.6" fill="#fff" stroke="#dc6a70" stroke-width="0.8"/>
<rect x="460.02" y="94.29" width="3.6" height="3.6" fill="#fff" stroke="#dc6a70" stroke-width="0.8"/>
<rect x="462.04" y="92.13" width="3.6" height="3.6" fill="#fff" stroke="#dc6a70" stroke-width="0.8"/>
<rect x="464.06" y="90.14" width="3.6" height="3.6" fill="#fff" stroke="#dc6a70" stroke-width="0.8"/>
<rect x="466.08" y="88.31" width="3.6" height="3.6" fill="#fff" stroke="#dc6a70" stroke-width="0.8"/>
<rect x="468.1" y="86.63" width="3.6" height="3.6" fill="#fff" stroke="#dc6a70" stroke-width="0.8"/>
<rect x="470.12" y="90.86" width="3.6" height="3.6" fill="#fff" stroke="#dc6a70" stroke-width="0.8"/>
<rect x="472.14" y="89.21" width="3.6" height="3.6" fill="#fff" stroke="#dc6a70" stroke-width="0.8"/>
<rect x="474.16" y="87.66" width="3.6" height="3.6" fill="#fff" stroke="#dc6a70" stroke-width="0.8"/>
<rect x="476.18" y="86.22" width="3.6" height="3.6" fill="#fff" stroke="#dc6a70" stroke-width="0.8"/>
<rect x="478.2" y="84.88" width="3.6" height="3.6" fill="#fff" stroke="#dc6a70" stroke-width="0.8"/>
<rect x="480.22" y="83.61" width="3.6" height="3.6" fill="#fff" stroke="#dc6a70" stroke-width="0.8"/>
<rect x="482.24" y="82.43" width="3.6" height="3.6" fill="#fff" stroke="#dc6a70" stroke-width="0.8"/>
<rect x="484.26" y="81.31" width="3.6" height="3.6" fill="#fff" stroke="#dc6a70" stroke-width="0.8"/>
<rect x="486.28" y="80.26" width="3.6" height="3.6" fill="#fff" stroke="#dc6a70" stroke-width="0.8"/>
<rect x="488.3" y="79.26" width="3.6" height="3.6" fill="#fff" stroke="#dc6a70" stroke-width="0.8"/>
<rect x="490.32" y="78.32" width="3.6" height="3.6" fill="#fff" stroke="#dc6a70" stroke-width="0.8"/>
<rect x="492.34" y="77.43" width="3.6" height="3.6" fill="#fff" stroke="#dc6a70" stroke-width="0.8"/>
<rect x="494.36" y="76.58" width="3.6" height="3.6" fill="#fff" stroke="#dc6a70" stroke-width="0.8"/>
<rect x="496.38" y="75.78" width="3.6" height="3.6" fill="#fff" stroke="#dc6a70" stroke-width="0.8"/>
<rect x="498.4" y="75.02" width="3.6" height="3.6" fill="#fff" stroke="#dc6a70" stroke-width="0.8"/>
<rect x="500.42" y="74.29" width="3.6" height="3.6" fill="#fff" stroke="#dc6a70" stroke-width="0.8"/>
<rect x="502.44" y="73.59" width="3.6" height="3.6" fill="#fff" stroke="#dc6a70" stroke-width="0.8"/>
<rect x="504.46" y="72.93" width="3.6" height="3.6" fill="#fff" stroke="#dc6a70" stroke-width="0.8"/>
<rect x="506.48" y="72.3" width="3.6" height="3.6" fill="#fff" stroke="#dc6a70" stroke-width="0.8"/>
<rect x="508.5" y="71.69" width="3.6" height="3.6" fill="#fff" stroke="#dc6a70" stroke-width="0.8"/>
<rect x="510.52" y="71.11" width="3.6" height="3.6" fill="#fff" stroke="#dc6a70" stroke-width="0.8"/>
<rect x="512.54" y="70.56" width="3.6" height="3.6" fill="#fff" stroke="#dc6a70" stroke-width="0.8"/>
<rect x="514.56" y="70.03" width="3.6" height="3.6" fill="#fff" stroke="#dc6a70" stroke-width="0.8"/>
<rect x="516.58" y="69.51" width="3.6" height="3.6" fill="#fff" stroke="#dc6a70" stroke-width="0.8"/>
<rect x="518.6" y="69.02" width="3.6" height="3.6" fill="#fff" stroke="#dc6a70" stroke-width="0.8"/>
<rect x="520.62" y="68.55" width="3.6" height="3.6" fill="#fff" stroke="#dc6a70" stroke-width="0.8"/>
<rect x="522.64" y="68.1" width="3.6" height="3.6" fill="#fff" stroke="#dc6a70" stroke-width="0.8"/>
<rect x="524.66" y="67.66" width="3.6" height="3.6" fill="#fff" stroke="#dc6a70" stroke-width="0.8"/>
<rect x="526.68" y="67.24" width="3.6" height="3.6" fill="#fff" stroke="#dc6a70" stroke-width="0.8"/>
<rect x="528.7" y="66.83" width="3.6" height="3.6" fill="#fff" stroke="#dc6a70" stroke-width="0.8"/>
<rect x="530.72" y="66.44" width="3.6" height="3.6" fill="#fff" stroke="#dc6a70" stroke-width="0.8"/>
<rect x="532.74" y="66.06" width="3.6" height="3.6" fill="#fff" stroke="#dc6a70" stroke-width="0.8"/>
<rect x="534.76" y="65.69" width="3.6" height="3.6" fill="#fff" stroke="#dc6a70" stroke-width="0.8"/>
<rect x="536.78" y="65.34" width="3.6" height="3.6" fill="#fff" stroke="#dc6a70" stroke-width="0.8"/>
<rect x="538.8" y="64.99" width="3.6" height="3.6" fill="#fff" stroke="#dc6a70" stroke-width="0.8"/>
<rect x="540.82" y="64.66" width="3.6" height="3.6" fill="#fff" stroke="#dc6a70" stroke-width="0.8"/>
<rect x="542.84" y="64.34" width="3.6" height="3.6" fill="#fff" stroke="#dc6a70" stroke-width="0.8"/>
<rect x="544.86" y="64.03" width="3.6" height="3.6" fill="#fff" stroke="#dc6a70" stroke-width="0.8"/>
<rect x="546.88" y="63.73" width="3.6" height="3.6" fill="#fff" stroke="#dc6a70" stroke-width="0.8"/>
<rect x="548.9" y="63.44" width="3.6" height="3.6" fill="#fff" stroke="#dc6a70" stroke-width="0.8"/>
<rect x="550.92" y="63.15" width="3.6" height="3.6" fill="#fff" stroke="#dc6a70" stroke-width="0.8"/>
<rect x="552.94" y="62.88" width="3.6" height="3.6" fill="#fff" stroke="#dc6a70" stroke-width="0.8"/>
<rect x="554.96" y="62.61" width="3.6" height="3.6" fill="#fff" stroke="#dc6a70" stroke-width="0.8"/>
<rect x="556.98" y="62.35" width="3.6" height="3.6" fill="#fff" stroke="#dc6a70" stroke-width="0.8"/>
<rect x="559" y="62.1" width="3.6" height="3.6" fill="#fff" stroke="#dc6a70" stroke-width="0.8"/>
<rect x="561.02" y="61.86" width="3.6" height="3.6" fill="#fff" stroke="#dc6a70" stroke-width="0.8"/>
<rect x="563.04" y="61.62" width="3.6" height="3.6" fill="#fff" stroke="#dc6a70" stroke-width="0.8"/>
<rect x="565.06" y="61.39" width="3.6" height="3.6" fill="#fff" stroke="#dc6a70" stroke-width="0.8"/>
<rect x="567.08" y="61.16" width="3.6" height="3.6" fill="#fff" stroke="#dc6a70" stroke-width="0.8"/>
<rect x="569.1" y="60.94" width="3.6" height="3.6" fill="#fff" stroke="#dc6a70" stroke-width="0.8"/>
<rect x="571.12" y="60.73" width="3.6" height="3.6" fill="#fff" stroke="#dc6a70" stroke-width="0.8"/>
<rect x="573.14" y="60.52" width="3.6" height="3.6" fill="#fff" stroke="#dc6a70" stroke-width="0.8"/>
<rect x="575.16" y="60.31" width="3.6" height="3.6" fill="#fff" stroke="#dc6a70" stroke-width="0.8"/>
<rect x="577.18" y="60.11" width="3.6" height="3.6" fill="#fff" stroke="#dc6a70" stroke-width="0.8"/>
<rect x="579.2" y="59.92" width="3.6" height="3.6" fill="#fff" stroke="#dc6a70" stroke-width="0.8"/>
<rect x="581.22" y="59.73" width="3.6" height="3.6" fill="#fff" stroke="#dc6a70" stroke-width="0.8"/>
<rect x="583.24" y="59.55" width="3.6" height="3.6" fill="#fff" stroke="#dc6a70" stroke-width="0.8"/>
<rect x="585.26" y="59.37" width="3.6" height="3.6" fill="#fff" stroke="#dc6a70" stroke-width="0.8"/>
<rect x="587.28" y="59.19" width="3.6" height="3.6" fill="#fff" stroke="#dc6a70" stroke-width="0.8"/>
<rect x="589.3" y="59.02" width="3.6" height="3.6" fill="#fff" stroke="#dc6a70" stroke-width="0.8"/>
<rect x="591.32" y="58.85" width="3.6" height="3.6" fill="#fff" stroke="#dc6a70" stroke-width="0.8"/>
<rect x="593.34" y="58.69" width="3.6" height="3.6" fill="#fff" stroke="#dc6a70" stroke-width="0.8"/>
<rect x="595.36" y="58.53" width="3.6" height="3.6" fill="#fff" stroke="#dc6a70" stroke-width="0.8"/>
<rect x="597.38" y="58.37" width="3.6" height="3.6" fill="#fff" stroke="#dc6a70" stroke-width="0.8"/>
<rect x="599.4" y="58.22" width="3.6" height="3.6" fill="#fff" stroke="#dc6a70" stroke-width="0.8"/>
<rect x="601.42" y="58.07" width="3.6" height="3.6" fill="#fff" stroke="#dc6a70" stroke-width="0.8"/>
<rect x="603.44" y="57.93" width="3.6" height="3.6" fill="#fff" stroke="#dc6a70" stroke-width="0.8"/>
<rect x="605.46" y="57.78" width="3.6" height="3.6" fill="#fff" stroke="#dc6a70" stroke-width="0.8"/>
<rect x="607.48" y="57.64" width="3.6" height="3.6" fill="#fff" stroke="#dc6a70" stroke-width="0.8"/>
<rect x="609.5" y="57.5" width="3.6" height="3.6" fill="#fff" stroke="#dc6a70" stroke-width="0.8"/>
<line x1="619.8" y1="19.2" x2="646.9" y2="19.2" stroke="#3636c4" stroke-width="1"/>
<polygon points="633.35,16.27 631.05,20.67 635.65,20.67" fill="#fff" stroke="#5c5cdc" stroke-width="0.8"/>
<text x="650.8" y="23.52" font-family='"Liberation Sans", sans-serif' font-size="12" font-weight="normal" text-anchor="start" >VL_S3</text>
<line x1="619.8" y1="33.9" x2="646.9" y2="33.9" stroke="#3636c4" stroke-width="1"/>
<circle cx="633.35" cy="33.9" r="2.2" fill="#fff" stroke="#5c5cdc" stroke-width="0.8"/>
<text x="650.8" y="38.22" font-family='"Liberation Sans", sans-serif' font-size="12" font-weight="normal" text-anchor="start" >GAS_S3</text>
<line x1="619.8" y1="48.7" x2="646.9" y2="48.7" stroke="#c44650" stroke-width="1"/>
<polygon points="633.35,45.9 636.15,48.7 633.35,51.5 630.55,48.7" fill="#fff" stroke="#dc6a70" stroke-width="0.8"/>
<text x="650.8" y="53.02" font-family='"Liberation Sans", sans-serif' font-size="12" font-weight="normal" text-anchor="start" >VL_S4</text>
<line x1="619.8" y1="63.6" x2="646.9" y2="63.6" stroke="#c44650" stroke-width="1"/>
<rect x="631.55" y="61.8" width="3.6" height="3.6" fill="#fff" stroke="#dc6a70" stroke-width="0.8"/>
<text x="650.8" y="67.92" font-family='"Liberation Sans", sans-serif' font-size="12" font-weight="normal" text-anchor="start" >GAS_S4</text>
<text transform="translate(386.1 130.0) rotate(-90) scale(0.93 1)" x="0" y="0" font-family='"Liberation Sans", sans-serif' font-size="15.2" font-weight="bold" text-anchor="middle" stroke="#000" stroke-width="0.3">FPM</text>
<text transform="translate(539.3 247.9) scale(0.965 1)" x="0" y="0" font-family='"Liberation Sans", sans-serif' font-size="14.4" font-weight="bold" text-anchor="middle" stroke="#000" stroke-width="0.3" >Time (min)</text>
<text x="532" y="276" font-family='"Liberation Serif", serif' font-size="18" font-weight="bold" text-anchor="middle" ><tspan font-weight="normal">(</tspan><tspan dy="0.8">b</tspan><tspan dy="-0.8" font-weight="normal">)</tspan></text>
<line x1="225.3" y1="311.3" x2="225.3" y2="505.7" stroke="#111" stroke-width="1.4"/>
<line x1="224.6" y1="505" x2="489.2" y2="505" stroke="#111" stroke-width="1.4"/>
<line x1="221" y1="495.7" x2="225.3" y2="495.7" stroke="#111" stroke-width="1.2"/>
<line x1="221" y1="458.82" x2="225.3" y2="458.82" stroke="#111" stroke-width="1.2"/>
<line x1="221" y1="421.94" x2="225.3" y2="421.94" stroke="#111" stroke-width="1.2"/>
<line x1="221" y1="385.06" x2="225.3" y2="385.06" stroke="#111" stroke-width="1.2"/>
<line x1="221" y1="348.18" x2="225.3" y2="348.18" stroke="#111" stroke-width="1.2"/>
<line x1="221" y1="311.3" x2="225.3" y2="311.3" stroke="#111" stroke-width="1.2"/>
<line x1="223" y1="477.26" x2="225.3" y2="477.26" stroke="#111" stroke-width="1.2"/>
<line x1="223" y1="440.38" x2="225.3" y2="440.38" stroke="#111" stroke-width="1.2"/>
<line x1="223" y1="403.5" x2="225.3" y2="403.5" stroke="#111" stroke-width="1.2"/>
<line x1="223" y1="366.62" x2="225.3" y2="366.62" stroke="#111" stroke-width="1.2"/>
<line x1="223" y1="329.74" x2="225.3" y2="329.74" stroke="#111" stroke-width="1.2"/>
<line x1="229.9" y1="505" x2="229.9" y2="509.3" stroke="#111" stroke-width="1.2"/>
<line x1="277.86" y1="505" x2="277.86" y2="509.3" stroke="#111" stroke-width="1.2"/>
<line x1="325.82" y1="505" x2="325.82" y2="509.3" stroke="#111" stroke-width="1.2"/>
<line x1="373.78" y1="505" x2="373.78" y2="509.3" stroke="#111" stroke-width="1.2"/>
<line x1="421.74" y1="505" x2="421.74" y2="509.3" stroke="#111" stroke-width="1.2"/>
<line x1="469.7" y1="505" x2="469.7" y2="509.3" stroke="#111" stroke-width="1.2"/>
<line x1="253.88" y1="505" x2="253.88" y2="507.3" stroke="#111" stroke-width="1.2"/>
<line x1="301.84" y1="505" x2="301.84" y2="507.3" stroke="#111" stroke-width="1.2"/>
<line x1="349.8" y1="505" x2="349.8" y2="507.3" stroke="#111" stroke-width="1.2"/>
<line x1="397.76" y1="505" x2="397.76" y2="507.3" stroke="#111" stroke-width="1.2"/>
<line x1="445.72" y1="505" x2="445.72" y2="507.3" stroke="#111" stroke-width="1.2"/>
<text x="219" y="499.2" font-family='"Liberation Sans", sans-serif' font-size="12.5" font-weight="bold" text-anchor="end" stroke="#000" stroke-width="0.3" >0.0</text>
<text x="219" y="462.32" font-family='"Liberation Sans", sans-serif' font-size="12.5" font-weight="bold" text-anchor="end" stroke="#000" stroke-width="0.3" >0.2</text>
<text x="219" y="425.44" font-family='"Liberation Sans", sans-serif' font-size="12.5" font-weight="bold" text-anchor="end" stroke="#000" stroke-width="0.3" >0.4</text>
<text x="219" y="388.56" font-family='"Liberation Sans", sans-serif' font-size="12.5" font-weight="bold" text-anchor="end" stroke="#000" stroke-width="0.3" >0.6</text>
<text x="219" y="351.68" font-family='"Liberation Sans", sans-serif' font-size="12.5" font-weight="bold" text-anchor="end" stroke="#000" stroke-width="0.3" >0.8</text>
<text x="219" y="314.8" font-family='"Liberation Sans", sans-serif' font-size="12.5" font-weight="bold" text-anchor="end" stroke="#000" stroke-width="0.3" >1.0</text>
<text x="230.2" y="521.7" font-family='"Liberation Sans", sans-serif' font-size="12.5" font-weight="bold" text-anchor="middle" stroke="#000" stroke-width="0.3" >0</text>
<text x="278.16" y="521.7" font-family='"Liberation Sans", sans-serif' font-size="12.5" font-weight="bold" text-anchor="middle" stroke="#000" stroke-width="0.3" >5</text>
<text x="326.12" y="521.7" font-family='"Liberation Sans", sans-serif' font-size="12.5" font-weight="bold" text-anchor="middle" stroke="#000" stroke-width="0.3" >10</text>
<text x="374.08" y="521.7" font-family='"Liberation Sans", sans-serif' font-size="12.5" font-weight="bold" text-anchor="middle" stroke="#000" stroke-width="0.3" >15</text>
<text x="422.04" y="521.7" font-family='"Liberation Sans", sans-serif' font-size="12.5" font-weight="bold" text-anchor="middle" stroke="#000" stroke-width="0.3" >20</text>
<text x="470" y="521.7" font-family='"Liberation Sans", sans-serif' font-size="12.5" font-weight="bold" text-anchor="middle" stroke="#000" stroke-width="0.3" >25</text>
<polyline fill="none" stroke="#3636c4" stroke-width="1.0" points="229.9,495.7 233.1,495.7 236.29,495.7 239.49,495.7 242.69,495.7 245.89,495.7 249.08,495.7 252.28,495.7 255.48,495.7 258.68,477.26 261.87,462.17 265.07,449.6 268.27,438.96 271.47,429.84 274.66,434.23 277.86,438.07 281.06,441.46 284.25,444.48 287.45,447.17 290.65,449.6 293.85,451.8 297.04,445.41 300.24,439.58 303.44,434.23 306.64,436.69 309.83,438.96 313.03,441.06 316.23,443.01 319.43,444.83 322.62,446.53 325.82,442.16 329.02,438.07 332.21,434.23 335.41,430.62 338.61,427.21 341.81,423.99 345,420.94 348.2,418.06 351.4,415.32 354.6,412.72 357.79,410.25 360.99,407.89 364.19,405.64 367.39,403.5 370.58,401.45 373.78,399.49 376.98,397.61 380.17,395.82 383.37,394.09 386.57,392.44 389.77,390.85 392.96,389.32 396.16,391.32 399.36,393.26 402.56,395.12 405.75,396.91 408.95,395.41 412.15,397.14 415.35,398.81 418.54,400.43 421.74,398.97 424.94,397.55 428.13,399.11 431.33,400.62 434.53,402.08 437.73,403.5 440.92,404.88 444.12,403.5 447.32,402.16 450.52,400.87 453.71,399.6"/>
<polygon points="229.9,492.62 227.49,497.24 232.31,497.24" fill="#fff" stroke="#5c5cdc" stroke-width="0.8"/>
<polygon points="233.1,492.62 230.68,497.24 235.51,497.24" fill="#fff" stroke="#5c5cdc" stroke-width="0.8"/>
<polygon points="236.29,492.62 233.88,497.24 238.71,497.24" fill="#fff" stroke="#5c5cdc" stroke-width="0.8"/>
<polygon points="239.49,492.62 237.08,497.24 241.91,497.24" fill="#fff" stroke="#5c5cdc" stroke-width="0.8"/>
<polygon points="242.69,492.62 240.27,497.24 245.1,497.24" fill="#fff" stroke="#5c5cdc" stroke-width="0.8"/>
<polygon points="245.89,492.62 243.47,497.24 248.3,497.24" fill="#fff" stroke="#5c5cdc" stroke-width="0.8"/>
<polygon points="249.08,492.62 246.67,497.24 251.5,497.24" fill="#fff" stroke="#5c5cdc" stroke-width="0.8"/>
<polygon points="252.28,492.62 249.87,497.24 254.7,497.24" fill="#fff" stroke="#5c5cdc" stroke-width="0.8"/>
<polygon points="255.48,492.62 253.06,497.24 257.89,497.24" fill="#fff" stroke="#5c5cdc" stroke-width="0.8"/>
<polygon points="258.68,474.18 256.26,478.8 261.09,478.8" fill="#fff" stroke="#5c5cdc" stroke-width="0.8"/>
<polygon points="261.87,459.09 259.46,463.71 264.29,463.71" fill="#fff" stroke="#5c5cdc" stroke-width="0.8"/>
<polygon points="265.07,446.52 262.66,451.14 267.49,451.14" fill="#fff" stroke="#5c5cdc" stroke-width="0.8"/>
<polygon points="268.27,435.88 265.85,440.5 270.68,440.5" fill="#fff" stroke="#5c5cdc" stroke-width="0.8"/>
<polygon points="271.47,426.76 269.05,431.38 273.88,431.38" fill="#fff" stroke="#5c5cdc" stroke-width="0.8"/>
<polygon points="274.66,431.15 272.25,435.77 277.08,435.77" fill="#fff" stroke="#5c5cdc" stroke-width="0.8"/>
<polygon points="277.86,434.99 275.44,439.61 280.28,439.61" fill="#fff" stroke="#5c5cdc" stroke-width="0.8"/>
<polygon points="281.06,438.38 278.64,443 283.47,443" fill="#fff" stroke="#5c5cdc" stroke-width="0.8"/>
<polygon points="284.25,441.4 281.84,446.02 286.67,446.02" fill="#fff" stroke="#5c5cdc" stroke-width="0.8"/>
<polygon points="287.45,444.09 285.04,448.71 289.87,448.71" fill="#fff" stroke="#5c5cdc" stroke-width="0.8"/>
<polygon points="290.65,446.52 288.23,451.14 293.06,451.14" fill="#fff" stroke="#5c5cdc" stroke-width="0.8"/>
<polygon points="293.85,448.71 291.43,453.33 296.26,453.33" fill="#fff" stroke="#5c5cdc" stroke-width="0.8"/>
<polygon points="297.04,442.33 294.63,446.95 299.46,446.95" fill="#fff" stroke="#5c5cdc" stroke-width="0.8"/>
<polygon points="300.24,436.5 297.83,441.12 302.66,441.12" fill="#fff" stroke="#5c5cdc" stroke-width="0.8"/>
<polygon points="303.44,431.15 301.02,435.77 305.85,435.77" fill="#fff" stroke="#5c5cdc" stroke-width="0.8"/>
<polygon points="306.64,433.61 304.22,438.23 309.05,438.23" fill="#fff" stroke="#5c5cdc" stroke-width="0.8"/>
<polygon points="309.83,435.88 307.42,440.5 312.25,440.5" fill="#fff" stroke="#5c5cdc" stroke-width="0.8"/>
<polygon points="313.03,437.98 310.62,442.6 315.45,442.6" fill="#fff" stroke="#5c5cdc" stroke-width="0.8"/>
<polygon points="316.23,439.93 313.81,444.55 318.64,444.55" fill="#fff" stroke="#5c5cdc" stroke-width="0.8"/>
<polygon points="319.43,441.75 317.01,446.37 321.84,446.37" fill="#fff" stroke="#5c5cdc" stroke-width="0.8"/>
<polygon points="322.62,443.45 320.21,448.07 325.04,448.07" fill="#fff" stroke="#5c5cdc" stroke-width="0.8"/>
<polygon points="325.82,439.08 323.4,443.7 328.24,443.7" fill="#fff" stroke="#5c5cdc" stroke-width="0.8"/>
<polygon points="329.02,434.99 326.6,439.61 331.43,439.61" fill="#fff" stroke="#5c5cdc" stroke-width="0.8"/>
<polygon points="332.21,431.15 329.8,435.77 334.63,435.77" fill="#fff" stroke="#5c5cdc" stroke-width="0.8"/>
<polygon points="335.41,427.54 333,432.16 337.83,432.16" fill="#fff" stroke="#5c5cdc" stroke-width="0.8"/>
<polygon points="338.61,424.13 336.19,428.75 341.02,428.75" fill="#fff" stroke="#5c5cdc" stroke-width="0.8"/>
<polygon points="341.81,420.91 339.39,425.53 344.22,425.53" fill="#fff" stroke="#5c5cdc" stroke-width="0.8"/>
<polygon points="345,417.86 342.59,422.48 347.42,422.48" fill="#fff" stroke="#5c5cdc" stroke-width="0.8"/>
<polygon points="348.2,414.98 345.79,419.6 350.62,419.6" fill="#fff" stroke="#5c5cdc" stroke-width="0.8"/>
<polygon points="351.4,412.24 348.98,416.86 353.81,416.86" fill="#fff" stroke="#5c5cdc" stroke-width="0.8"/>
<polygon points="354.6,409.64 352.18,414.26 357.01,414.26" fill="#fff" stroke="#5c5cdc" stroke-width="0.8"/>
<polygon points="357.79,407.16 355.38,411.78 360.21,411.78" fill="#fff" stroke="#5c5cdc" stroke-width="0.8"/>
<polygon points="360.99,404.81 358.58,409.43 363.41,409.43" fill="#fff" stroke="#5c5cdc" stroke-width="0.8"/>
<polygon points="364.19,402.56 361.77,407.18 366.6,407.18" fill="#fff" stroke="#5c5cdc" stroke-width="0.8"/>
<polygon points="367.39,400.42 364.97,405.04 369.8,405.04" fill="#fff" stroke="#5c5cdc" stroke-width="0.8"/>
<polygon points="370.58,398.37 368.17,402.99 373,402.99" fill="#fff" stroke="#5c5cdc" stroke-width="0.8"/>
<polygon points="373.78,396.41 371.36,401.03 376.19,401.03" fill="#fff" stroke="#5c5cdc" stroke-width="0.8"/>
<polygon points="376.98,394.53 374.56,399.15 379.39,399.15" fill="#fff" stroke="#5c5cdc" stroke-width="0.8"/>
<polygon points="380.17,392.74 377.76,397.36 382.59,397.36" fill="#fff" stroke="#5c5cdc" stroke-width="0.8"/>
<polygon points="383.37,391.01 380.96,395.63 385.79,395.63" fill="#fff" stroke="#5c5cdc" stroke-width="0.8"/>
<polygon points="386.57,389.35 384.15,393.97 388.98,393.97" fill="#fff" stroke="#5c5cdc" stroke-width="0.8"/>
<polygon points="389.77,387.76 387.35,392.38 392.18,392.38" fill="#fff" stroke="#5c5cdc" stroke-width="0.8"/>
<polygon points="392.96,386.23 390.55,390.85 395.38,390.85" fill="#fff" stroke="#5c5cdc" stroke-width="0.8"/>
<polygon points="396.16,388.24 393.75,392.86 398.58,392.86" fill="#fff" stroke="#5c5cdc" stroke-width="0.8"/>
<polygon points="399.36,390.17 396.94,394.79 401.77,394.79" fill="#fff" stroke="#5c5cdc" stroke-width="0.8"/>
<polygon points="402.56,392.04 400.14,396.66 404.97,396.66" fill="#fff" stroke="#5c5cdc" stroke-width="0.8"/>
<polygon points="405.75,393.83 403.34,398.45 408.17,398.45" fill="#fff" stroke="#5c5cdc" stroke-width="0.8"/>
<polygon points="408.95,392.33 406.54,396.95 411.37,396.95" fill="#fff" stroke="#5c5cdc" stroke-width="0.8"/>
<polygon points="412.15,394.06 409.73,398.68 414.56,398.68" fill="#fff" stroke="#5c5cdc" stroke-width="0.8"/>
<polygon points="415.35,395.73 412.93,400.35 417.76,400.35" fill="#fff" stroke="#5c5cdc" stroke-width="0.8"/>
<polygon points="418.54,397.35 416.13,401.97 420.96,401.97" fill="#fff" stroke="#5c5cdc" stroke-width="0.8"/>
<polygon points="421.74,395.88 419.32,400.5 424.16,400.5" fill="#fff" stroke="#5c5cdc" stroke-width="0.8"/>
<polygon points="424.94,394.47 422.52,399.09 427.35,399.09" fill="#fff" stroke="#5c5cdc" stroke-width="0.8"/>
<polygon points="428.13,396.03 425.72,400.65 430.55,400.65" fill="#fff" stroke="#5c5cdc" stroke-width="0.8"/>
<polygon points="431.33,397.54 428.92,402.16 433.75,402.16" fill="#fff" stroke="#5c5cdc" stroke-width="0.8"/>
<polygon points="434.53,399 432.11,403.62 436.94,403.62" fill="#fff" stroke="#5c5cdc" stroke-width="0.8"/>
<polygon points="437.73,400.42 435.31,405.04 440.14,405.04" fill="#fff" stroke="#5c5cdc" stroke-width="0.8"/>
<polygon points="440.92,401.79 438.51,406.41 443.34,406.41" fill="#fff" stroke="#5c5cdc" stroke-width="0.8"/>
<polygon points="444.12,400.42 441.71,405.04 446.54,405.04" fill="#fff" stroke="#5c5cdc" stroke-width="0.8"/>
<polygon points="447.32,399.08 444.9,403.7 449.73,403.7" fill="#fff" stroke="#5c5cdc" stroke-width="0.8"/>
<polygon points="450.52,397.78 448.1,402.4 452.93,402.4" fill="#fff" stroke="#5c5cdc" stroke-width="0.8"/>
<polygon points="453.71,396.52 451.3,401.14 456.13,401.14" fill="#fff" stroke="#5c5cdc" stroke-width="0.8"/>
<polyline fill="none" stroke="#c44650" stroke-width="1.0" points="229.9,495.7 233.1,495.7 236.29,495.7 239.49,495.7 242.69,458.82 245.89,434.23 249.08,416.67 252.28,403.5 255.48,393.26 258.68,385.06 261.87,378.35 265.07,372.77 268.27,368.04 271.47,363.99 274.66,372.77 277.86,380.45 281.06,376.38 284.25,372.77 287.45,379.24 290.65,385.06 293.85,390.33 297.04,395.12 300.24,391.47 303.44,388.13 306.64,385.06 309.83,382.22 313.03,386.43 316.23,390.33 319.43,387.6 322.62,385.06 325.82,382.68 329.02,380.45 332.21,378.35 335.41,376.38 338.61,374.52 341.81,372.77 345,371.11 348.2,369.53 351.4,368.04 354.6,366.62 357.79,365.27 360.99,363.99 364.19,362.76 367.39,361.59 370.58,360.47 373.78,359.4 376.98,358.38 380.17,357.4 383.37,356.46 386.57,355.56 389.77,354.69 392.96,353.85 396.16,353.05 399.36,352.28 402.56,351.53 405.75,350.81 408.95,350.12 412.15,349.45 415.35,348.81 418.54,348.18 421.74,347.58 424.94,346.99 428.13,346.42 431.33,348.76 434.53,348.18 437.73,347.62 440.92,347.08 444.12,346.55 447.32,346.04 450.52,345.55 453.71,345.06"/>
<circle cx="229.9" cy="495.7" r="2.38" fill="#fff" stroke="#dc6a70" stroke-width="0.8"/>
<circle cx="233.1" cy="495.7" r="2.38" fill="#fff" stroke="#dc6a70" stroke-width="0.8"/>
<circle cx="236.29" cy="495.7" r="2.38" fill="#fff" stroke="#dc6a70" stroke-width="0.8"/>
<circle cx="239.49" cy="495.7" r="2.38" fill="#fff" stroke="#dc6a70" stroke-width="0.8"/>
<circle cx="242.69" cy="458.82" r="2.38" fill="#fff" stroke="#dc6a70" stroke-width="0.8"/>
<circle cx="245.89" cy="434.23" r="2.38" fill="#fff" stroke="#dc6a70" stroke-width="0.8"/>
<circle cx="249.08" cy="416.67" r="2.38" fill="#fff" stroke="#dc6a70" stroke-width="0.8"/>
<circle cx="252.28" cy="403.5" r="2.38" fill="#fff" stroke="#dc6a70" stroke-width="0.8"/>
<circle cx="255.48" cy="393.26" r="2.38" fill="#fff" stroke="#dc6a70" stroke-width="0.8"/>
<circle cx="258.68" cy="385.06" r="2.38" fill="#fff" stroke="#dc6a70" stroke-width="0.8"/>
<circle cx="261.87" cy="378.35" r="2.38" fill="#fff" stroke="#dc6a70" stroke-width="0.8"/>
<circle cx="265.07" cy="372.77" r="2.38" fill="#fff" stroke="#dc6a70" stroke-width="0.8"/>
<circle cx="268.27" cy="368.04" r="2.38" fill="#fff" stroke="#dc6a70" stroke-width="0.8"/>
<circle cx="271.47" cy="363.99" r="2.38" fill="#fff" stroke="#dc6a70" stroke-width="0.8"/>
<circle cx="274.66" cy="372.77" r="2.38" fill="#fff" stroke="#dc6a70" stroke-width="0.8"/>
<circle cx="277.86" cy="380.45" r="2.38" fill="#fff" stroke="#dc6a70" stroke-width="0.8"/>
<circle cx="281.06" cy="376.38" r="2.38" fill="#fff" stroke="#dc6a70" stroke-width="0.8"/>
<circle cx="284.25" cy="372.77" r="2.38" fill="#fff" stroke="#dc6a70" stroke-width="0.8"/>
<circle cx="287.45" cy="379.24" r="2.38" fill="#fff" stroke="#dc6a70" stroke-width="0.8"/>
<circle cx="290.65" cy="385.06" r="2.38" fill="#fff" stroke="#dc6a70" stroke-width="0.8"/>
<circle cx="293.85" cy="390.33" r="2.38" fill="#fff" stroke="#dc6a70" stroke-width="0.8"/>
<circle cx="297.04" cy="395.12" r="2.38" fill="#fff" stroke="#dc6a70" stroke-width="0.8"/>
<circle cx="300.24" cy="391.47" r="2.38" fill="#fff" stroke="#dc6a70" stroke-width="0.8"/>
<circle cx="303.44" cy="388.13" r="2.38" fill="#fff" stroke="#dc6a70" stroke-width="0.8"/>
<circle cx="306.64" cy="385.06" r="2.38" fill="#fff" stroke="#dc6a70" stroke-width="0.8"/>
<circle cx="309.83" cy="382.22" r="2.38" fill="#fff" stroke="#dc6a70" stroke-width="0.8"/>
<circle cx="313.03" cy="386.43" r="2.38" fill="#fff" stroke="#dc6a70" stroke-width="0.8"/>
<circle cx="316.23" cy="390.33" r="2.38" fill="#fff" stroke="#dc6a70" stroke-width="0.8"/>
<circle cx="319.43" cy="387.6" r="2.38" fill="#fff" stroke="#dc6a70" stroke-width="0.8"/>
<circle cx="322.62" cy="385.06" r="2.38" fill="#fff" stroke="#dc6a70" stroke-width="0.8"/>
<circle cx="325.82" cy="382.68" r="2.38" fill="#fff" stroke="#dc6a70" stroke-width="0.8"/>
<circle cx="329.02" cy="380.45" r="2.38" fill="#fff" stroke="#dc6a70" stroke-width="0.8"/>
<circle cx="332.21" cy="378.35" r="2.38" fill="#fff" stroke="#dc6a70" stroke-width="0.8"/>
<circle cx="335.41" cy="376.38" r="2.38" fill="#fff" stroke="#dc6a70" stroke-width="0.8"/>
<circle cx="338.61" cy="374.52" r="2.38" fill="#fff" stroke="#dc6a70" stroke-width="0.8"/>
<circle cx="341.81" cy="372.77" r="2.38" fill="#fff" stroke="#dc6a70" stroke-width="0.8"/>
<circle cx="345" cy="371.11" r="2.38" fill="#fff" stroke="#dc6a70" stroke-width="0.8"/>
<circle cx="348.2" cy="369.53" r="2.38" fill="#fff" stroke="#dc6a70" stroke-width="0.8"/>
<circle cx="351.4" cy="368.04" r="2.38" fill="#fff" stroke="#dc6a70" stroke-width="0.8"/>
<circle cx="354.6" cy="366.62" r="2.38" fill="#fff" stroke="#dc6a70" stroke-width="0.8"/>
<circle cx="357.79" cy="365.27" r="2.38" fill="#fff" stroke="#dc6a70" stroke-width="0.8"/>
<circle cx="360.99" cy="363.99" r="2.38" fill="#fff" stroke="#dc6a70" stroke-width="0.8"/>
<circle cx="364.19" cy="362.76" r="2.38" fill="#fff" stroke="#dc6a70" stroke-width="0.8"/>
<circle cx="367.39" cy="361.59" r="2.38" fill="#fff" stroke="#dc6a70" stroke-width="0.8"/>
<circle cx="370.58" cy="360.47" r="2.38" fill="#fff" stroke="#dc6a70" stroke-width="0.8"/>
<circle cx="373.78" cy="359.4" r="2.38" fill="#fff" stroke="#dc6a70" stroke-width="0.8"/>
<circle cx="376.98" cy="358.38" r="2.38" fill="#fff" stroke="#dc6a70" stroke-width="0.8"/>
<circle cx="380.17" cy="357.4" r="2.38" fill="#fff" stroke="#dc6a70" stroke-width="0.8"/>
<circle cx="383.37" cy="356.46" r="2.38" fill="#fff" stroke="#dc6a70" stroke-width="0.8"/>
<circle cx="386.57" cy="355.56" r="2.38" fill="#fff" stroke="#dc6a70" stroke-width="0.8"/>
<circle cx="389.77" cy="354.69" r="2.38" fill="#fff" stroke="#dc6a70" stroke-width="0.8"/>
<circle cx="392.96" cy="353.85" r="2.38" fill="#fff" stroke="#dc6a70" stroke-width="0.8"/>
<circle cx="396.16" cy="353.05" r="2.38" fill="#fff" stroke="#dc6a70" stroke-width="0.8"/>
<circle cx="399.36" cy="352.28" r="2.38" fill="#fff" stroke="#dc6a70" stroke-width="0.8"/>
<circle cx="402.56" cy="351.53" r="2.38" fill="#fff" stroke="#dc6a70" stroke-width="0.8"/>
<circle cx="405.75" cy="350.81" r="2.38" fill="#fff" stroke="#dc6a70" stroke-width="0.8"/>
<circle cx="408.95" cy="350.12" r="2.38" fill="#fff" stroke="#dc6a70" stroke-width="0.8"/>
<circle cx="412.15" cy="349.45" r="2.38" fill="#fff" stroke="#dc6a70" stroke-width="0.8"/>
<circle cx="415.35" cy="348.81" r="2.38" fill="#fff" stroke="#dc6a70" stroke-width="0.8"/>
<circle cx="418.54" cy="348.18" r="2.38" fill="#fff" stroke="#dc6a70" stroke-width="0.8"/>
<circle cx="421.74" cy="347.58" r="2.38" fill="#fff" stroke="#dc6a70" stroke-width="0.8"/>
<circle cx="424.94" cy="346.99" r="2.38" fill="#fff" stroke="#dc6a70" stroke-width="0.8"/>
<circle cx="428.13" cy="346.42" r="2.38" fill="#fff" stroke="#dc6a70" stroke-width="0.8"/>
<circle cx="431.33" cy="348.76" r="2.38" fill="#fff" stroke="#dc6a70" stroke-width="0.8"/>
<circle cx="434.53" cy="348.18" r="2.38" fill="#fff" stroke="#dc6a70" stroke-width="0.8"/>
<circle cx="437.73" cy="347.62" r="2.38" fill="#fff" stroke="#dc6a70" stroke-width="0.8"/>
<circle cx="440.92" cy="347.08" r="2.38" fill="#fff" stroke="#dc6a70" stroke-width="0.8"/>
<circle cx="444.12" cy="346.55" r="2.38" fill="#fff" stroke="#dc6a70" stroke-width="0.8"/>
<circle cx="447.32" cy="346.04" r="2.38" fill="#fff" stroke="#dc6a70" stroke-width="0.8"/>
<circle cx="450.52" cy="345.55" r="2.38" fill="#fff" stroke="#dc6a70" stroke-width="0.8"/>
<circle cx="453.71" cy="345.06" r="2.38" fill="#fff" stroke="#dc6a70" stroke-width="0.8"/>
<line x1="443.5" y1="299.5" x2="473.4" y2="299.5" stroke="#3636c4" stroke-width="1"/>
<polygon points="458.45,296.42 456.03,301.04 460.87,301.04" fill="#fff" stroke="#5c5cdc" stroke-width="0.8"/>
<text x="477.6" y="304.14" font-family='"Liberation Sans", sans-serif' font-size="12.9" font-weight="normal" text-anchor="start" >VL_S5</text>
<line x1="443.5" y1="315.3" x2="473.4" y2="315.3" stroke="#c44650" stroke-width="1"/>
<circle cx="458.45" cy="315.3" r="2.31" fill="#fff" stroke="#dc6a70" stroke-width="0.8"/>
<text x="477.6" y="319.94" font-family='"Liberation Sans", sans-serif' font-size="12.9" font-weight="normal" text-anchor="start" >GAS_S5</text>
<text transform="translate(192.2 418.6) rotate(-90) scale(0.98 1)" x="0" y="0" font-family='"Liberation Sans", sans-serif' font-size="15.5" font-weight="bold" text-anchor="middle" stroke="#000" stroke-width="0.3">FPM</text>
<text x="357.3" y="545.3" font-family='"Liberation Sans", sans-serif' font-size="15.0" font-weight="bold" text-anchor="middle" stroke="#000" stroke-width="0.3" >Time (min)</text>
<text x="349.3" y="571.9" font-family='"Liberation Serif", serif' font-size="18" font-weight="bold" text-anchor="middle" ><tspan font-weight="normal">(</tspan><tspan dy="0.8">c</tspan><tspan dy="-0.8" font-weight="normal">)</tspan></text>
</svg>
</body></html>
